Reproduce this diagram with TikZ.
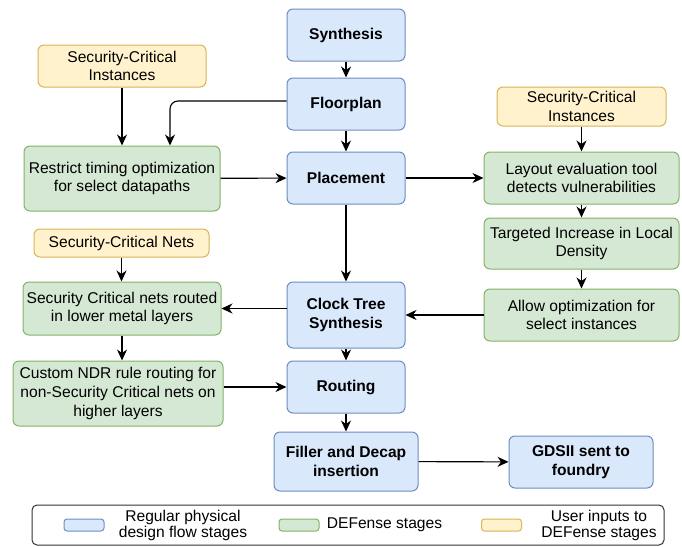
\documentclass[tikz,border=0pt]{standalone}
\usepackage{fontspec}
\setmainfont{Liberation Sans}
\usetikzlibrary{arrows.meta}

\definecolor{stageblue}{HTML}{DAE8FC}
\definecolor{stageblueline}{HTML}{6C8EBF}
\definecolor{defgreen}{HTML}{D5E8D4}
\definecolor{defgreenline}{HTML}{82B366}
\definecolor{inputyellow}{HTML}{FFF2CC}
\definecolor{inputyellowline}{HTML}{D6B656}

\begin{document}
\begin{tikzpicture}[x=1pt,y=-1pt,
  box/.style={rounded corners=6pt, line width=1pt, inner sep=0pt, align=center,
    font=\fontsize{15.6}{18.7}\selectfont},
  stage/.style={box, draw=stageblueline, fill=stageblue,
    font=\fontsize{15.6}{18.7}\selectfont\bfseries},
  defense/.style={box, draw=defgreenline, fill=defgreen},
  userin/.style={box, draw=inputyellowline, fill=inputyellow},
  flow/.style={-{Stealth[length=11pt,width=10pt,inset=3.5pt]}, line width=1.1pt},
  swatch/.style={rounded corners=3pt, line width=1pt, minimum width=40pt,
    minimum height=12pt, inner sep=0pt},
  legendtext/.style={align=center, inner sep=0pt, font=\fontsize{15.6}{16}\selectfont}
]
\useasboundingbox (0,0) rectangle (682,546);
% regular flow
\node[stage, minimum width=118pt, minimum height=52pt] (synth) at (346,35) {Synthesis};
\node[stage, minimum width=118pt, minimum height=52pt] (floor) at (346,104) {Floorplan};
\node[stage, minimum width=118pt, minimum height=52pt] (place) at (346,178) {Placement};
\node[stage, minimum width=118pt, minimum height=66pt] (cts) at (346,315) {Clock Tree\\Synthesis};
\node[stage, minimum width=118pt, minimum height=52pt] (route) at (346,387) {Routing};
\node[stage, minimum width=144pt, minimum height=59pt] (filler) at (346,461.5) {Filler and Decap\\insertion};
\node[stage, minimum width=144pt, minimum height=52pt] (gdsii) at (581,462) {GDSII sent to\\foundry};
% left side
\node[userin, minimum width=168pt, minimum height=42pt] (sciL) at (122,66) {Security-Critical\\Instances};
\node[defense, minimum width=196pt, minimum height=65pt] (restrict) at (122,178.5) {Restrict timing optimization\\for select datapaths};
\node[userin, minimum width=175pt, minimum height=28pt] (scnets) at (121.5,243) {Security-Critical Nets};
\node[defense, minimum width=198pt, minimum height=53pt] (scroute) at (122,308.5) {Security Critical nets routed\\in lower metal layers};
\node[defense, minimum width=210pt, minimum height=65pt] (custom) at (118,393.5) {Custom NDR rule routing for\\non-Security Critical nets on\\higher layers};
% right side
\node[userin, minimum width=169pt, minimum height=39pt] (sciR) at (581.5,106.5) {Security-Critical\\Instances};
\node[defense, minimum width=195pt, minimum height=52pt] (layout) at (581.5,178) {Layout evaluation tool\\detects vulnerabilities};
\node[defense, minimum width=195pt, minimum height=51pt] (targeted) at (581.5,243.5) {Targeted Increase in Local\\Density};
\node[defense, minimum width=195pt, minimum height=52pt] (allow) at (581.5,315) {Allow optimization for\\select instances};
% connectors
\draw[flow] (synth) -- (floor);
\draw[flow] (floor) -- (place);
\draw[flow, rounded corners=8pt] ([yshift=3pt]floor.west) -| ([xshift=48pt]restrict.north);
\draw[flow] (sciL) -- (restrict);
\draw[flow] (restrict) -- (place);
\draw[flow] (place) -- (layout);
\draw[flow] (sciR) -- (layout);
\draw[flow] (layout) -- (targeted);
\draw[flow] (targeted) -- (allow);
\draw[flow] (allow) -- (cts);
\draw[flow] (place) -- (cts);
\draw[flow] (cts.west |- scroute.east) -- (scroute.east);
\draw[flow] (scnets.south) -- (scnets.south |- scroute.north);
\draw[flow] (scroute.south) -- (scroute.south |- custom.north);
\draw[flow] (custom.east |- route.west) -- (route.west);
\draw[flow] (cts) -- (route);
\draw[flow] (route) -- (filler);
\draw[flow] (filler) -- (gdsii);
% legend
\node[draw=black!80, line width=1pt, rounded corners=5pt, minimum width=632pt,
  minimum height=40pt, inner sep=0pt] (legend) at (348,525) {};
\node[swatch, draw=stageblueline, fill=stageblue] (swblue) at (84,525) {};
\node[legendtext] (txblue) at (183,525) {Regular physical\\design flow stages};
\node[swatch, draw=defgreenline, fill=defgreen] (swgreen) at (299,525) {};
\node[legendtext] (txgreen) at (384.5,525) {DEFense stages};
\node[swatch, draw=inputyellowline, fill=inputyellow] (swyellow) at (501.5,525) {};
\node[legendtext] (txyellow) at (599,525) {User inputs to\\DEFense stages};
\end{tikzpicture}
\end{document}
